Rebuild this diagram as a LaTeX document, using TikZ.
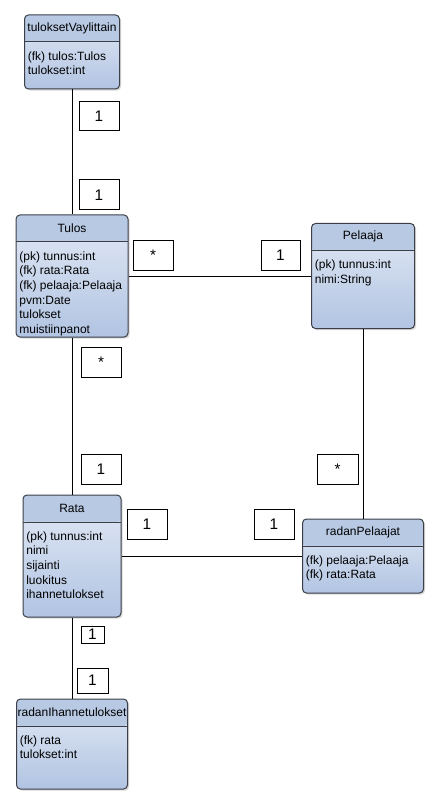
\documentclass[tikz,border=0pt]{standalone}
\usepackage{fontspec}
\setmainfont{Liberation Sans}
\usetikzlibrary{shadows}
\definecolor{class-head}{HTML}{B8C9E4}
\definecolor{class-top}{HTML}{E2E9F5}
\definecolor{class-bottom}{HTML}{B1C4E2}
\definecolor{class-line}{HTML}{3C3F48}

\begin{document}
\begin{tikzpicture}[x=0.75pt, y=-0.75pt, line width=0.75pt,
      every node/.style={font=\fontsize{9}{11}\selectfont},
      classbox/.style={draw=class-line, rounded corners=3pt, inner sep=0pt,
        top color=class-top, bottom color=class-bottom,
        drop shadow={opacity=0.3, shadow xshift=1.2pt, shadow yshift=-1.2pt},
        path picture={
          \fill[class-head] (path picture bounding box.north west) rectangle
            ([yshift=-20.25pt]path picture bounding box.north east);
          \draw[class-line] ([yshift=-20.25pt]path picture bounding box.north west) --
            ([yshift=-20.25pt]path picture bounding box.north east);}},
      classname/.style={inner sep=0pt, yshift=-10.125pt},
      attrs/.style={anchor=north west, align=left, inner xsep=2.5pt,
        inner ysep=0pt, yshift=-27.25pt},
      mult/.style={draw, fill=white, inner sep=0pt,
        font=\fontsize{11.5}{12}\selectfont}]
    \useasboundingbox (0,0) rectangle (439,805);
    % classes
    \node[classbox, minimum width=71.25pt, minimum height=55.5pt] (TV) at (72,52) {};
    \node[classname] at (TV.north) {tuloksetVaylittain};
    \node[attrs] at (TV.north west) {(fk) tulos:Tulos\\tulokset:int};
    \node[classbox, minimum width=84pt, minimum height=91.5pt] (TU) at (72,276) {};
    \node[classname] at (TU.north) {Tulos};
    \node[attrs] at (TU.north west) {(pk) tunnus:int\\(fk) rata:Rata\\(fk) pelaaja:Pelaaja\\pvm:Date\\tulokset\\muistiinpanot};
    \node[classbox, minimum width=77.25pt, minimum height=78.75pt] (PE) at (363,276) {};
    \node[classname] at (PE.north) {Pelaaja};
    \node[attrs] at (PE.north west) {(pk) tunnus:int\\nimi:String};
    \node[classbox, minimum width=73.5pt, minimum height=91.5pt] (RA) at (72,556) {};
    \node[classname] at (RA.north) {Rata};
    \node[attrs] at (RA.north west) {(pk) tunnus:int\\nimi\\sijainti\\luokitus\\ihannetulokset};
    \node[classbox, minimum width=90.75pt, minimum height=55.5pt] (RP) at (363,556) {};
    \node[classname] at (RP.north) {radanPelaajat};
    \node[attrs] at (RP.north west) {(fk) pelaaja:Pelaaja\\(fk) rata:Rata};
    \node[classbox, minimum width=83.25pt, minimum height=67.5pt] (RI) at (72,744) {};
    \node[classname] at (RI.north) {radanIhannetulokset};
    \node[attrs] at (RI.north west) {(fk) rata\\tulokset:int};
    % associations
    \draw (TV.south) -- (TU.north);
    \draw (TU.east) -- (PE.west);
    \draw (TU.south) -- (RA.north);
    \draw (PE.south) -- (RP.north);
    \draw (RA.east) -- (RP.west);
    \draw (RA.south) -- (RI.north);
    % multiplicities
    \node[mult, minimum width=30pt, minimum height=21.75pt] (m1) at (99,116.5) {1};
    \node[mult, minimum width=30pt, minimum height=22.5pt] (m2) at (99,195) {1};
    \node[mult, minimum width=30pt, minimum height=21.75pt] (m3) at (153,255.5) {*};
    \node[mult, minimum width=29.25pt, minimum height=21.75pt] (m4) at (280.5,255.5) {1};
    \node[mult, minimum width=30pt, minimum height=22.5pt] (m5) at (101,362) {*};
    \node[mult, minimum width=30pt, minimum height=22.5pt] (m6) at (101,469) {1};
    \node[mult, minimum width=30.75pt, minimum height=22.5pt] (m7) at (337.5,469) {*};
    \node[mult, minimum width=30pt, minimum height=22.5pt] (m8) at (147,524) {1};
    \node[mult, minimum width=30pt, minimum height=22.5pt] (m9) at (274,524) {1};
    \node[mult, minimum width=17.25pt, minimum height=12.75pt] (m10) at (92.5,634.5) {1};
    \node[mult, minimum width=23.25pt, minimum height=18.75pt] (m11) at (92.5,680.5) {1};
  \end{tikzpicture}
\end{document}
